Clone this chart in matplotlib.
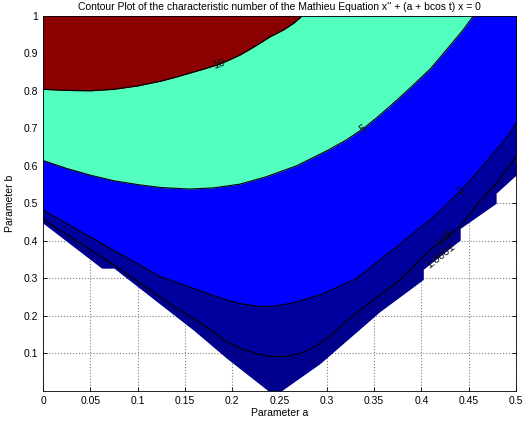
import numpy as np
import matplotlib
matplotlib.use('Agg')
import matplotlib.pyplot as plt

# Contour levels shown in the chart
levels = [1.0001, 1.05, 2, 5, 10]
level_labels = ['1.0001', '1.05', '2', '5', '10']

# Each contour as b(a): points
a_1p0001 = [0.0, 0.062, 0.062, 0.075, 0.134, 0.159, 0.194, 0.238, 0.252, 0.293, 0.356,
            0.402, 0.402, 0.441, 0.441, 0.479, 0.479, 0.5]
b_1p0001 = [0.447, 0.327, 0.327, 0.327, 0.211, 0.162, 0.087, 0.0, 0.0, 0.073, 0.211,
            0.297, 0.324, 0.402, 0.433, 0.500, 0.527, 0.575]

a_1p05 = [0.0, 0.076, 0.134, 0.159, 0.18, 0.194, 0.21, 0.229, 0.24, 0.250, 0.26, 0.272,
          0.282, 0.293, 0.305, 0.32, 0.335, 0.356, 0.377, 0.409, 0.441, 0.458, 0.479, 0.5]
b_1p05 = [0.458, 0.334, 0.233, 0.193, 0.158, 0.131, 0.112, 0.097, 0.092, 0.091, 0.093, 0.100,
          0.111, 0.127, 0.150, 0.185, 0.215, 0.255, 0.295, 0.375, 0.438, 0.495, 0.553, 0.624]

a_2 = [0.0, 0.124, 0.159, 0.194, 0.21, 0.229, 0.245, 0.261, 0.278, 0.295, 0.31, 0.328,
       0.342, 0.356, 0.374, 0.39, 0.409, 0.426, 0.444, 0.46, 0.479, 0.49, 0.5]
b_2 = [0.482, 0.304, 0.273, 0.242, 0.232, 0.225, 0.226, 0.233, 0.244, 0.258, 0.275, 0.295,
       0.320, 0.349, 0.384, 0.418, 0.455, 0.495, 0.540, 0.585, 0.642, 0.675, 0.713]

a_5 = [0.0, 0.025, 0.05, 0.075, 0.1025, 0.125, 0.155, 0.18, 0.208, 0.235, 0.268, 0.30,
       0.32, 0.339, 0.355, 0.374, 0.39, 0.41, 0.425, 0.444, 0.455]
b_5 = [0.614, 0.593, 0.575, 0.560, 0.549, 0.542, 0.538, 0.541, 0.551, 0.570, 0.600, 0.640,
       0.668, 0.700, 0.733, 0.775, 0.812, 0.860, 0.905, 0.962, 1.0]

a_10 = [0.0, 0.025, 0.05, 0.075, 0.10, 0.125, 0.14, 0.155, 0.17, 0.184, 0.195, 0.208,
        0.219, 0.23, 0.24, 0.254, 0.265, 0.274]
b_10 = [0.804, 0.801, 0.800, 0.804, 0.813, 0.826, 0.836, 0.847, 0.858, 0.869, 0.880, 0.895,
        0.911, 0.928, 0.944, 0.962, 0.980, 1.0]

curves = [(a_1p0001, b_1p0001), (a_1p05, b_1p05), (a_2, b_2), (a_5, b_5), (a_10, b_10)]
band_colors = ['#00008c', '#00009e', '#0000ff', '#52ffbf', '#8b0000']

# where the inline labels sit (a position along each curve)
label_a = [0.420, 0.425, 0.441, 0.339, 0.186]

plt.rcParams['font.family'] = ['Liberation Sans', 'DejaVu Sans']

fig = plt.figure(figsize=(5.22, 4.25), dpi=100)
ax = fig.add_axes([0.0824, 0.0805, 0.9061, 0.8823])
ax.set_xlim(0, 0.5)
ax.set_ylim(0, 1)

# filled bands, lowest level first
for (a, b), c in zip(curves, band_colors):
    ax.fill_between(a, b, 1.0, color=c, linewidth=0, zorder=2)

# contour lines
for i, (a, b) in enumerate(curves):
    if i == 0:
        continue
    ax.plot(a, b, color='black', linewidth=0.8, zorder=3)

# inline labels
for (a, b), txt, la in zip(curves, level_labels, label_a):
    lb = np.interp(la, a, b)
    p1 = ax.transData.transform((la - 0.01, np.interp(la - 0.01, a, b)))
    p2 = ax.transData.transform((la + 0.01, np.interp(la + 0.01, a, b)))
    ang = np.degrees(np.arctan2(p2[1] - p1[1], p2[0] - p1[0]))
    ax.text(la, lb, txt, fontsize=8, rotation=ang, rotation_mode='anchor',
            ha='center', va='center', color='#111111', zorder=4)

ax.set_xticks(np.arange(0, 0.501, 0.05))
ax.set_xticklabels(['0', '0.05', '0.1', '0.15', '0.2', '0.25', '0.3', '0.35', '0.4', '0.45', '0.5'])
ax.set_yticks(np.arange(0.1, 1.001, 0.1))
ax.set_yticklabels(['0.1', '0.2', '0.3', '0.4', '0.5', '0.6', '0.7', '0.8', '0.9', '1'])
ax.tick_params(direction='in', top=True, right=True, labelsize=7.5, length=3, width=0.6)
ax.grid(True, linestyle=':', color='#808080', linewidth=0.8)
ax.set_axisbelow(True)
for s in ax.spines.values():
    s.set_linewidth(0.6)
    s.set_zorder(5)

ax.set_title("Contour Plot of the characteristic number of the Mathieu Equation x'' + (a + bcos t) x = 0",
             fontsize=7.5, pad=4)
ax.set_xlabel('Parameter a', fontsize=7.5, labelpad=2)
ax.set_ylabel('Parameter b', fontsize=7.5, labelpad=6)

fig.savefig('out.png', dpi=100)
